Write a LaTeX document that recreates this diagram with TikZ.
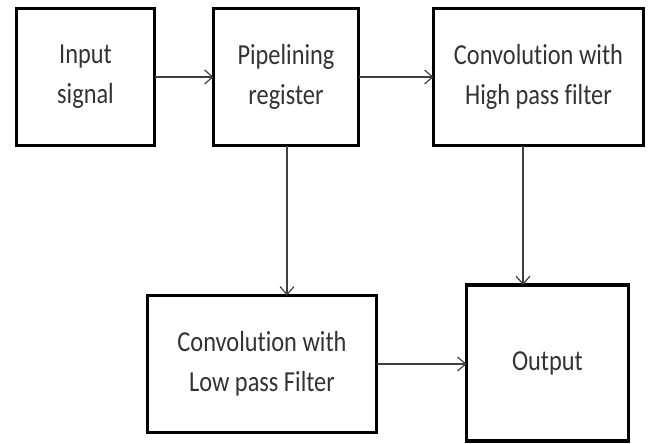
\documentclass[tikz,border=0pt]{standalone}
\usepackage{fontspec}
\setmainfont{Carlito}[FakeStretch=0.84, Ligatures=NoCommon]
\usetikzlibrary{arrows.meta}
\begin{document}
\begin{tikzpicture}[x=1pt,y=-1pt,
  blk/.style={draw=black, line width=3.5pt, rectangle, inner sep=0pt, outer sep=0pt,
    align=center, text=black!80, font=\fontsize{29}{40}\selectfont},
  conn/.style={draw=black!75, line width=1.2pt, -{Straight Barb[length=8pt,width=14pt,line width=1.2pt]}}]
\useasboundingbox[fill=white] (0,0) rectangle (651,444);
\node[blk, minimum width=138pt, minimum height=137pt] (in) at (85.5,77) {Input\\signal};
\node[blk, minimum width=145pt, minimum height=137pt] (pipe) at (286,77) {Pipelining\\register};
\node[blk, minimum width=210pt, minimum height=137pt] (high) at (538.5,77) {Convolution with\\High pass filter};
\node[blk, minimum width=229pt, minimum height=137pt] (low) at (262,364) {Convolution with\\Low pass Filter};
\node[blk, minimum width=162pt, minimum height=156pt] (out) at (547.5,363) {Output};
\draw[conn] (in.east) -- (pipe.west);
\draw[conn] (pipe.east) -- (high.west);
\draw[conn] ([xshift=1pt]pipe.south) -- ([xshift=1pt]pipe.south |- low.north);
\draw[conn] ([xshift=-15.5pt]high.south) -- ([xshift=-15.5pt]high.south |- out.north);
\draw[conn] (low.east) -- (low.east -| out.west);
\end{tikzpicture}
\end{document}
